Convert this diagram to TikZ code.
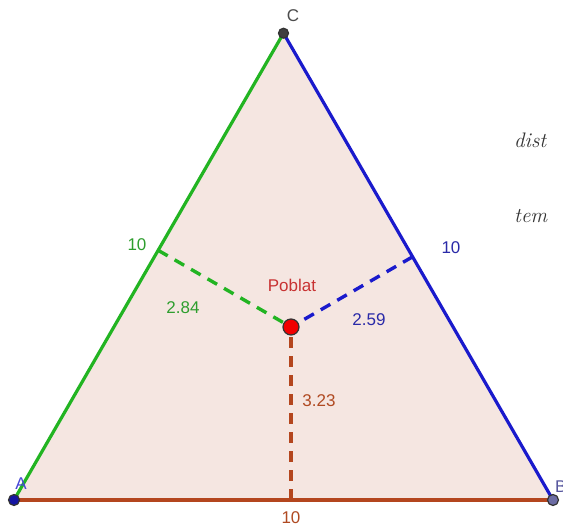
\documentclass[tikz,border=0pt]{standalone}
\usepackage{fontspec}
\setsansfont{Liberation Sans}
\usetikzlibrary{calc}
\definecolor{gg}{HTML}{22B422}
\definecolor{gb}{HTML}{1A1ACC}
\definecolor{gbr}{HTML}{B4461E}
\definecolor{gfill}{HTML}{F5E6E1}
\definecolor{tgreen}{HTML}{2E9E2E}
\definecolor{tblue}{HTML}{2A2AA8}
\definecolor{tbrown}{HTML}{B04A22}
\definecolor{tred}{HTML}{C83232}
\tikzset{
  lbl/.style={font=\sffamily\fontsize{17}{19}\selectfont, inner sep=0pt},
  side/.style={line width=3.2pt},
  perp/.style={line width=3.4pt, dash pattern=on 11pt off 8pt},
  pt/.style={circle, draw=black!80, line width=1.2pt, inner sep=0pt, minimum size=11pt},
  itl/.style={inner sep=0pt, anchor=west, font=\fontsize{21}{23}\selectfont\itshape, text=black!80},
}
\begin{document}
\begin{tikzpicture}[x=1pt,y=-1pt]
\useasboundingbox (0,0) rectangle (563,526);
\clip (0,0) rectangle (563,526);
\fill[white] (0,0) rectangle (563,526);
\coordinate (A) at (14,500);
\coordinate (B) at (553,500);
\coordinate (C) at (283.5,33.2);
\coordinate (P) at (291,327);
\coordinate (FA) at ($(A)!(P)!(B)$);
\coordinate (FL) at ($(A)!(P)!(C)$);
\coordinate (FR) at ($(B)!(P)!(C)$);
\fill[gfill] (A) -- (B) -- (C) -- cycle;
\draw[perp, gg] (FL) -- (P);
\draw[perp, gb] (FR) -- (P);
\draw[perp, gbr] (FA) -- (P);
\draw[side, gg] (A) -- (C);
\draw[side, gb] (B) -- (C);
\draw[side, gbr] (A) -- (B);
\node[pt, fill=gb!80!black] (pA) at (A) {};
\node[pt, fill=gb!35!gray!90] (pB) at (B) {};
\node[pt, fill=black!75, minimum size=10pt] (pC) at (C) {};
\node[pt, fill=red!95!black, minimum size=16pt] (pP) at (P) {};
\node[lbl, text=gb!80] (lA) at (21,484) {A};
\node[lbl, text=gb!40!gray, anchor=west] (lB) at (555,487) {B};
\node[lbl, text=black!70] (lC) at (293,16) {C};
\node[lbl, text=tgreen] (l10a) at (137,245) {10};
\node[lbl, text=tblue] (l10b) at (451,248) {10};
\node[lbl, text=tbrown] (l10c) at (291,518) {10};
\node[lbl, text=tgreen] (d1) at (183,308) {2.84};
\node[lbl, text=tblue] (d2) at (369,320) {2.59};
\node[lbl, text=tbrown] (d3) at (319,401) {3.23};
\node[lbl, text=tred] (pl) at (292,285) {Poblat};
\node[itl] (t1) at (514,140) {dist};
\node[itl] (t2) at (514,216) {tem};
\end{tikzpicture}
\end{document}
